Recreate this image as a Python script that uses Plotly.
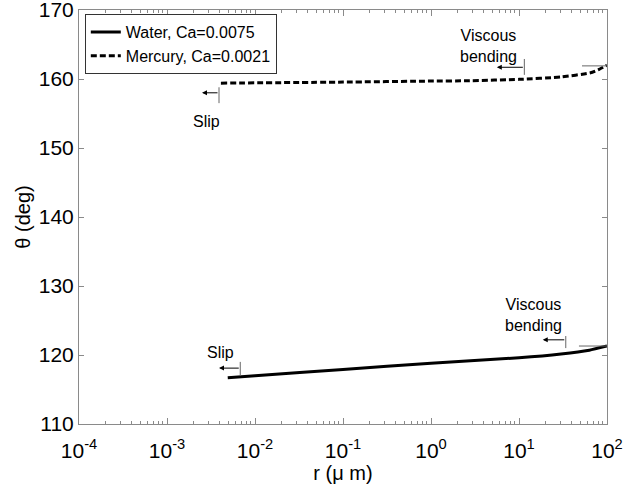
import numpy as np
import plotly.graph_objects as go

# Apparent contact angle theta (deg) against distance r (um) from the contact line
water_r = [0.0049, 0.01, 0.1, 1, 10, 30, 63, 100]
water_theta = [116.7, 117.0, 117.9, 118.8, 119.6, 120.15, 120.7, 121.3]

mercury_r = [0.0041, 0.1, 1, 2.75, 10, 30, 65, 83, 100]
mercury_theta = [159.4, 159.55, 159.7, 159.75, 159.95, 160.3, 160.9, 161.45, 162.0]

# Regime boundaries (r) with the vertical extent (theta) of each marker bar
water_slip_r, water_slip_bar = 0.0068, (117.0, 119.0)
water_bend_r, water_bend_bar = 34.0, (121.0, 122.75)
mercury_slip_r, mercury_slip_bar = 0.0039, (156.5, 158.8)
mercury_bend_r, mercury_bend_bar = 11.5, (160.6, 162.9)

# Arrows pointing toward smaller r: (tip r, theta)
water_slip_arrow = (0.0039, 118.1)
water_bend_arrow = (18.6, 122.2)
mercury_slip_arrow = (0.0025, 158.0)
mercury_bend_arrow = (5.6, 161.7)

# Short horizontal end marks near the outer edge: (r start, r end, theta)
water_end_mark = (48, 100, 121.3)
mercury_end_mark = (52, 100, 161.9)

# Text labels: (r, theta, text)
labels = [
    (0.0041, 120.3, "Slip"),
    (14.5, 125.8, "Viscous<br>bending"),
    (0.0028, 153.8, "Slip"),
    (4.5, 164.8, "Viscous<br>bending"),
]

x_tickvals = [1e-4, 1e-3, 1e-2, 1e-1, 1e0, 1e1, 1e2]
x_ticktext = ["10<sup>-4</sup>", "10<sup>-3</sup>", "10<sup>-2</sup>", "10<sup>-1</sup>",
              "10<sup>0</sup>", "10<sup>1</sup>", "10<sup>2</sup>"]
y_tickvals = [110, 120, 130, 140, 150, 160, 170]

FONT = "Liberation Sans, Arial, Helvetica, sans-serif"
AXIS_GRAY = "#8a8a8a"
BAR_GRAY = "#666666"

fig = go.Figure()

fig.add_trace(go.Scatter(
    x=water_r, y=water_theta, mode="lines", name="Water, Ca=0.0075",
    line=dict(color="black", width=3, shape="spline", smoothing=0.5),
))
fig.add_trace(go.Scatter(
    x=mercury_r, y=mercury_theta, mode="lines", name="Mercury, Ca=0.0021",
    line=dict(color="black", width=3, dash="6px,3px", shape="spline", smoothing=0.5),
))

# regime boundary bars
for r, (t0, t1) in [(water_slip_r, water_slip_bar), (water_bend_r, water_bend_bar),
                    (mercury_slip_r, mercury_slip_bar), (mercury_bend_r, mercury_bend_bar)]:
    fig.add_trace(go.Scatter(x=[r, r], y=[t0, t1], mode="lines", showlegend=False,
                             hoverinfo="skip", line=dict(color=BAR_GRAY, width=1)))

for r0, r1, t in [water_end_mark, mercury_end_mark]:
    fig.add_trace(go.Scatter(x=[r0, r1], y=[t, t], mode="lines", showlegend=False,
                             hoverinfo="skip", line=dict(color=BAR_GRAY, width=1)))

annotations = []
for tail_r, (tip_r, t) in [(water_slip_r, water_slip_arrow), (water_bend_r, water_bend_arrow),
                           (mercury_slip_r, mercury_slip_arrow), (mercury_bend_r, mercury_bend_arrow)]:
    annotations.append(dict(
        x=np.log10(tip_r), y=t, ax=np.log10(tail_r), ay=t,
        xref="x", yref="y", axref="x", ayref="y", text="",
        showarrow=True, arrowhead=2, arrowsize=1, arrowwidth=1, arrowcolor="black",
    ))

for r, t, txt in labels:
    annotations.append(dict(
        x=np.log10(r), y=t, xref="x", yref="y", text=txt, showarrow=False,
        font=dict(family=FONT, size=16, color="black"), align="center",
    ))

minor_vals = [k * 10.0 ** e for e in range(-4, 2) for k in range(2, 10)]

fig.update_layout(
    width=623, height=485,
    margin=dict(l=79, r=16, t=10, b=61, autoexpand=False),
    paper_bgcolor="white", plot_bgcolor="white",
    font=dict(family=FONT, color="black"),
    annotations=annotations,
    legend=dict(
        x=0.011, y=0.99, xanchor="left", yanchor="top",
        bgcolor="white", bordercolor="#333333", borderwidth=1,
        font=dict(family=FONT, size=16, color="black"),
        tracegroupgap=0, itemwidth=30,
    ),
    xaxis=dict(
        type="log", range=[-4, 2], automargin=False,
        tickmode="array", tickvals=x_tickvals, ticktext=x_ticktext,
        ticks="inside", ticklen=6, tickcolor=AXIS_GRAY, tickwidth=1,
        ticklabelstandoff=8, ticklabeloverflow="allow",
        minor=dict(tickmode="array", tickvals=minor_vals, ticks="inside",
                   ticklen=3, tickcolor=AXIS_GRAY, showgrid=False),
        showline=True, linecolor=AXIS_GRAY, linewidth=1, mirror="ticks",
        showgrid=False, zeroline=False,
        tickfont=dict(family=FONT, size=21, color="black"),
        title=dict(text="r (\u03bc m)", font=dict(family=FONT, size=20, color="black"), standoff=0),
    ),
    yaxis=dict(
        range=[110, 170], automargin=False,
        tickmode="array", tickvals=y_tickvals,
        ticks="inside", ticklen=5, tickcolor=AXIS_GRAY, tickwidth=1,
        ticklabeloverflow="allow",
        showline=True, linecolor=AXIS_GRAY, linewidth=1, mirror="ticks",
        showgrid=False, zeroline=False,
        tickfont=dict(family=FONT, size=21, color="black"),
        title=dict(text="\u03b8 (deg)", font=dict(family=FONT, size=20, color="black"), standoff=2),
    ),
)

fig.write_html("out.html")
